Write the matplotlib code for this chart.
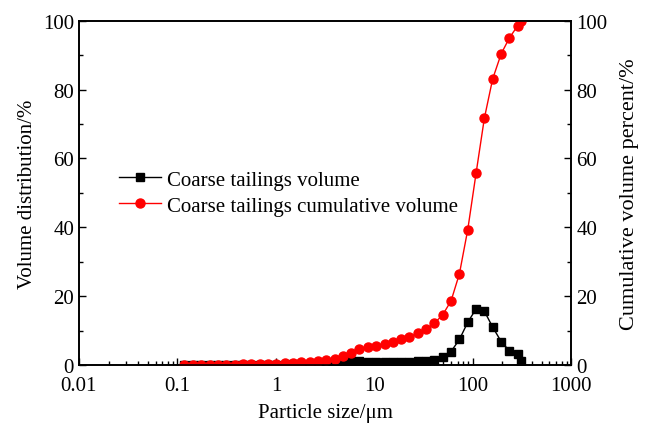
import matplotlib
matplotlib.use("Agg")
import matplotlib.pyplot as plt
from matplotlib.ticker import MultipleLocator, LogLocator, NullFormatter, FixedLocator, FixedFormatter

plt.rcParams['font.family'] = ['Liberation Serif', 'DejaVu Serif']

# particle size bins (um)
size = [0.118, 0.144, 0.175, 0.212, 0.258, 0.313, 0.380, 0.462, 0.562, 0.683,
        0.830, 1.007, 1.224, 1.487, 1.807, 2.196, 2.668, 3.24, 3.94, 4.78,
        5.81, 7.06, 8.58, 10.4, 12.7, 15.4, 18.7, 22.7, 27.6, 33.5,
        40.7, 49.5, 60.1, 73.1, 88.8, 108, 131, 159, 194, 235,
        286, 310]

volume = [0.0, 0.02, 0.02, 0.02, 0.02, 0.02, 0.02, 0.03, 0.03, 0.04,
          0.06, 0.07, 0.1, 0.15, 0.2, 0.3, 0.3, 0.3, 0.3, 0.9,
          1.0, 1.0, 0.9, 0.85, 0.8, 0.8, 0.8, 0.8, 1.1, 1.2,
          1.5, 2.2, 3.9, 7.4, 12.4, 16.3, 15.6, 11.0, 6.8, 4.1,
          3.2, 1.1]

cumulative = [0.0, 0.02, 0.04, 0.06, 0.08, 0.1, 0.12, 0.15, 0.18, 0.22,
              0.28, 0.35, 0.45, 0.6, 0.8, 0.9, 1.2, 1.5, 1.8, 2.5,
              3.5, 4.5, 5.1, 5.6, 6.0, 6.7, 7.5, 8.2, 9.2, 10.5,
              12.1, 14.6, 18.6, 26.5, 39.3, 55.8, 71.7, 83.1, 90.4, 95.0,
              98.6, 99.8]

xticks = [0.01, 0.1, 1, 10, 100, 1000]
xtick_labels = ["0.01", "0.1", "1", "10", "100", "1000"]

fig = plt.figure(figsize=(6.47, 4.27), dpi=100)
ax = fig.add_axes([0.122, 0.143, 0.761, 0.806])
ax2 = ax.twinx()

l1, = ax.plot(size, volume, '-s', color='black', ms=5.5, lw=1,
              label='Coarse tailings volume')
l2, = ax2.plot(size, cumulative, '-o', color='red', ms=6.5, lw=1,
               label='Coarse tailings cumulative volume')

for a in (ax, ax2):
    a.set_xscale('log')
    a.set_xlim(0.01, 1000)
    a.set_ylim(0, 100)
    a.yaxis.set_major_locator(MultipleLocator(20))
    a.yaxis.set_minor_locator(MultipleLocator(10))
    a.tick_params(which='both', direction='in', labelsize=15)
    a.tick_params(which='major', length=5, width=1)
    a.tick_params(which='minor', length=3, width=1)
    for s in a.spines.values():
        s.set_linewidth(1.2)

ax.xaxis.set_major_locator(FixedLocator(xticks))
ax.xaxis.set_major_formatter(FixedFormatter(xtick_labels))
ax.xaxis.set_minor_locator(LogLocator(base=10, subs=range(2, 10), numticks=20))
ax.xaxis.set_minor_formatter(NullFormatter())
ax.tick_params(axis='x', pad=8)

ax.set_xlabel('Particle size/μm', fontsize=15, labelpad=6)
ax.set_ylabel('Volume distribution/%', fontsize=15, labelpad=4)
ax2.set_ylabel('Cumulative volume percent/%', fontsize=16, labelpad=9)

ax.legend(handles=[l1, l2], loc='center left', bbox_to_anchor=(0.065, 0.5),
          borderaxespad=0, frameon=False, fontsize=15, handlelength=2.0,
          handletextpad=0.3, labelspacing=0.3)

fig.savefig('out.png', dpi=100)
